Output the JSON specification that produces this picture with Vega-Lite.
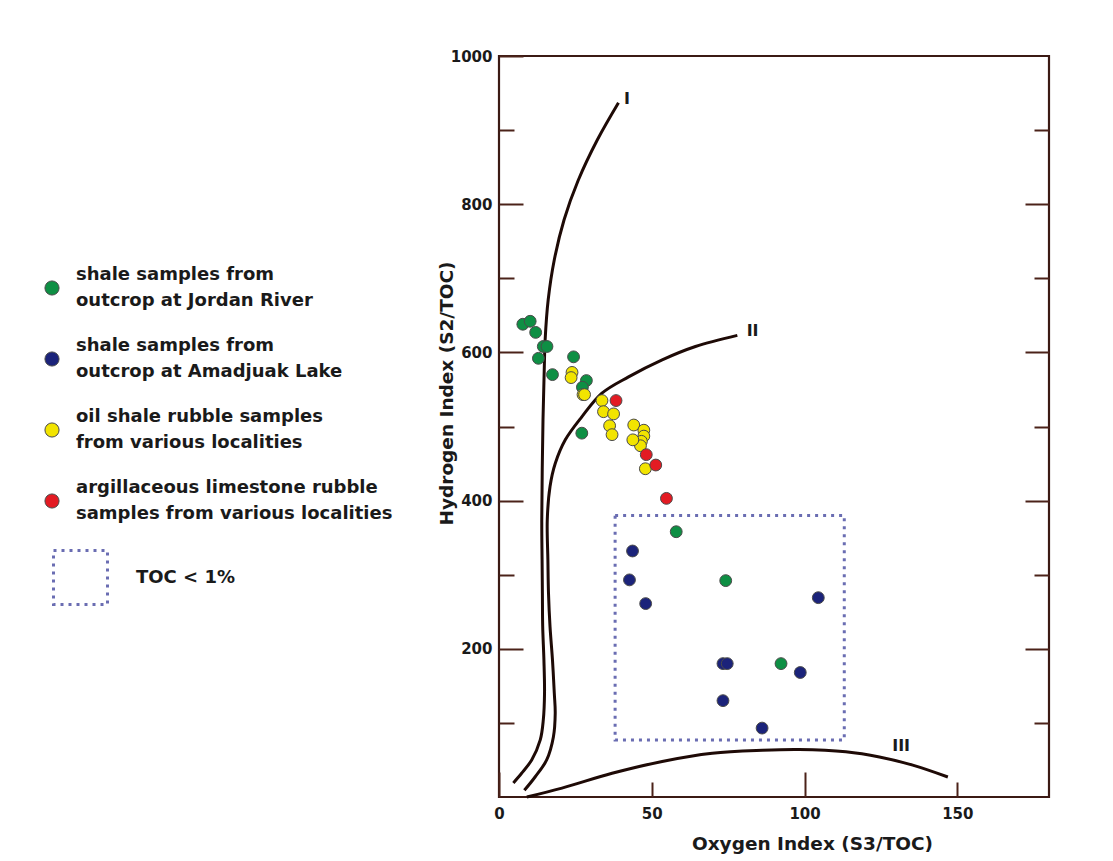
{
  "$schema": "https://vega.github.io/schema/vega-lite/v6.json",
  "width": 550,
  "height": 741,
  "autosize": {"type": "none"},
  "padding": {"left": 499, "top": 56, "right": 64, "bottom": 64},
  "background": "white",
  "config": {
    "font": "DejaVu Sans",
    "view": {"stroke": "#3b1a14", "strokeWidth": 2.2},
    "style": {"guide-label": {"lineHeight": 26}}
  },
  "datasets": {
    "toc": [{"x1": 38, "x2": 113, "y1": 77, "y2": 380, "zone": "TOC < 1%"}],
    "curves": [
      {"curve": "I", "i": 1, "x": 4.7, "y": 19},
      {"curve": "I", "i": 2, "x": 7.4, "y": 32},
      {"curve": "I", "i": 3, "x": 10.7, "y": 50},
      {"curve": "I", "i": 4, "x": 13.5, "y": 77},
      {"curve": "I", "i": 5, "x": 14.5, "y": 104},
      {"curve": "I", "i": 6, "x": 14.9, "y": 140},
      {"curve": "I", "i": 7, "x": 14.7, "y": 185},
      {"curve": "I", "i": 8, "x": 14.3, "y": 230},
      {"curve": "I", "i": 9, "x": 14.2, "y": 275},
      {"curve": "I", "i": 10, "x": 14.1, "y": 320},
      {"curve": "I", "i": 11, "x": 14.0, "y": 374},
      {"curve": "I", "i": 12, "x": 14.4, "y": 509},
      {"curve": "I", "i": 13, "x": 14.8, "y": 576},
      {"curve": "I", "i": 14, "x": 15.1, "y": 617},
      {"curve": "I", "i": 15, "x": 16.1, "y": 671},
      {"curve": "I", "i": 16, "x": 18.1, "y": 725},
      {"curve": "I", "i": 17, "x": 21.3, "y": 779},
      {"curve": "I", "i": 18, "x": 25.9, "y": 832},
      {"curve": "I", "i": 19, "x": 32.2, "y": 887},
      {"curve": "I", "i": 20, "x": 39.1, "y": 937},
      {"curve": "II", "i": 1, "x": 8.3, "y": 9},
      {"curve": "II", "i": 2, "x": 11.8, "y": 27},
      {"curve": "II", "i": 3, "x": 15.6, "y": 50},
      {"curve": "II", "i": 4, "x": 17.8, "y": 81},
      {"curve": "II", "i": 5, "x": 18.4, "y": 113},
      {"curve": "II", "i": 6, "x": 18.1, "y": 140},
      {"curve": "II", "i": 7, "x": 17.5, "y": 185},
      {"curve": "II", "i": 8, "x": 16.7, "y": 230},
      {"curve": "II", "i": 9, "x": 16.2, "y": 275},
      {"curve": "II", "i": 10, "x": 16.0, "y": 320},
      {"curve": "II", "i": 11, "x": 15.8, "y": 374},
      {"curve": "II", "i": 12, "x": 16.7, "y": 419},
      {"curve": "II", "i": 13, "x": 18.4, "y": 450},
      {"curve": "II", "i": 14, "x": 21.7, "y": 482},
      {"curve": "II", "i": 15, "x": 27.1, "y": 513},
      {"curve": "II", "i": 16, "x": 33.7, "y": 545},
      {"curve": "II", "i": 17, "x": 42.4, "y": 567},
      {"curve": "II", "i": 18, "x": 53.4, "y": 590},
      {"curve": "II", "i": 19, "x": 64.3, "y": 608},
      {"curve": "II", "i": 20, "x": 78.0, "y": 623},
      {"curve": "III", "i": 1, "x": 9.1, "y": 0},
      {"curve": "III", "i": 2, "x": 20.6, "y": 12},
      {"curve": "III", "i": 3, "x": 37.0, "y": 32},
      {"curve": "III", "i": 4, "x": 53.4, "y": 48},
      {"curve": "III", "i": 5, "x": 69.8, "y": 59},
      {"curve": "III", "i": 6, "x": 86.2, "y": 63},
      {"curve": "III", "i": 7, "x": 98.2, "y": 64},
      {"curve": "III", "i": 8, "x": 113.5, "y": 61},
      {"curve": "III", "i": 9, "x": 124.5, "y": 54},
      {"curve": "III", "i": 10, "x": 135.4, "y": 43},
      {"curve": "III", "i": 11, "x": 146.9, "y": 27}
    ],
    "curveLabels": [
      {"label": "I", "x": 41.9, "y": 942},
      {"label": "II", "x": 83.0, "y": 629},
      {"label": "III", "x": 131.6, "y": 69}
    ],
    "samples": [
      {"group": "shale samples from|outcrop at Jordan River", "oi": 7.8, "hi": 638},
      {"group": "shale samples from|outcrop at Jordan River", "oi": 10.2, "hi": 642},
      {"group": "shale samples from|outcrop at Jordan River", "oi": 12.0, "hi": 627},
      {"group": "shale samples from|outcrop at Jordan River", "oi": 14.5, "hi": 608},
      {"group": "shale samples from|outcrop at Jordan River", "oi": 15.7, "hi": 608},
      {"group": "shale samples from|outcrop at Jordan River", "oi": 12.9, "hi": 592},
      {"group": "shale samples from|outcrop at Jordan River", "oi": 17.5, "hi": 570},
      {"group": "shale samples from|outcrop at Jordan River", "oi": 24.4, "hi": 594},
      {"group": "shale samples from|outcrop at Jordan River", "oi": 28.6, "hi": 562},
      {"group": "shale samples from|outcrop at Jordan River", "oi": 27.3, "hi": 553},
      {"group": "shale samples from|outcrop at Jordan River", "oi": 27.1, "hi": 491},
      {"group": "shale samples from|outcrop at Jordan River", "oi": 58.0, "hi": 358},
      {"group": "shale samples from|outcrop at Jordan River", "oi": 74.2, "hi": 292},
      {"group": "shale samples from|outcrop at Jordan River", "oi": 92.3, "hi": 180},
      {"group": "shale samples from|outcrop at Amadjuak Lake", "oi": 43.7, "hi": 332},
      {"group": "shale samples from|outcrop at Amadjuak Lake", "oi": 42.7, "hi": 293},
      {"group": "shale samples from|outcrop at Amadjuak Lake", "oi": 48.0, "hi": 261},
      {"group": "shale samples from|outcrop at Amadjuak Lake", "oi": 73.3, "hi": 180},
      {"group": "shale samples from|outcrop at Amadjuak Lake", "oi": 74.7, "hi": 180},
      {"group": "shale samples from|outcrop at Amadjuak Lake", "oi": 104.5, "hi": 269},
      {"group": "shale samples from|outcrop at Amadjuak Lake", "oi": 98.6, "hi": 168},
      {"group": "shale samples from|outcrop at Amadjuak Lake", "oi": 73.3, "hi": 130},
      {"group": "shale samples from|outcrop at Amadjuak Lake", "oi": 86.1, "hi": 93},
      {"group": "oil shale rubble samples|from various localities", "oi": 23.9, "hi": 573},
      {"group": "oil shale rubble samples|from various localities", "oi": 23.6, "hi": 566},
      {"group": "oil shale rubble samples|from various localities", "oi": 27.5, "hi": 543},
      {"group": "oil shale rubble samples|from various localities", "oi": 28.0, "hi": 543},
      {"group": "oil shale rubble samples|from various localities", "oi": 33.7, "hi": 535},
      {"group": "oil shale rubble samples|from various localities", "oi": 34.2, "hi": 520},
      {"group": "oil shale rubble samples|from various localities", "oi": 37.5, "hi": 517},
      {"group": "oil shale rubble samples|from various localities", "oi": 36.2, "hi": 501},
      {"group": "oil shale rubble samples|from various localities", "oi": 37.0, "hi": 489},
      {"group": "oil shale rubble samples|from various localities", "oi": 44.1, "hi": 502},
      {"group": "oil shale rubble samples|from various localities", "oi": 47.4, "hi": 495},
      {"group": "oil shale rubble samples|from various localities", "oi": 47.4, "hi": 487},
      {"group": "oil shale rubble samples|from various localities", "oi": 46.6, "hi": 480},
      {"group": "oil shale rubble samples|from various localities", "oi": 46.3, "hi": 474},
      {"group": "oil shale rubble samples|from various localities", "oi": 43.8, "hi": 482},
      {"group": "oil shale rubble samples|from various localities", "oi": 47.9, "hi": 443},
      {"group": "argillaceous limestone rubble|samples from various localities", "oi": 38.3, "hi": 535},
      {"group": "argillaceous limestone rubble|samples from various localities", "oi": 48.2, "hi": 462},
      {"group": "argillaceous limestone rubble|samples from various localities", "oi": 51.3, "hi": 448},
      {"group": "argillaceous limestone rubble|samples from various localities", "oi": 54.8, "hi": 403}
    ]
  },
  "resolve": {"axis": {"y": "independent"}},
  "layer": [
    {
      "data": {"name": "toc"},
      "mark": {"type": "rect", "filled": false, "strokeWidth": 3, "strokeDash": [3, 5]},
      "encoding": {
        "x": {
          "field": "x1", "type": "quantitative",
          "scale": {"domain": [0, 180], "nice": false, "zero": false},
          "axis": {
            "orient": "bottom",
            "values": [0, 50, 100, 150],
            "format": "d",
            "labelFlush": false,
            "domain": false, "grid": false,
            "tickColor": "#4b2219", "tickWidth": 2,
            "tickSize": {"condition": {"test": "datum.value % 100 === 0", "value": -25}, "value": -15},
            "labelPadding": {"condition": {"test": "datum.value % 100 === 0", "value": 34}, "value": 24},
            "labelFont": "DejaVu Sans", "labelFontWeight": "bold", "labelFontSize": 15, "labelColor": "#1a1a1a",
            "title": "Oxygen Index (S3/TOC)",
            "titleFont": "DejaVu Sans", "titleFontWeight": "bold", "titleFontSize": 18.5, "titleColor": "#1a1a1a",
            "titleX": 313, "titleY": 46, "titleAlign": "center", "titleBaseline": "middle"
          }
        },
        "x2": {"field": "x2"},
        "y": {
          "field": "y1", "type": "quantitative",
          "scale": {"domain": [0, 1000], "nice": false, "zero": false},
          "axis": {
            "orient": "left",
            "values": [100, 200, 300, 400, 500, 600, 700, 800, 900, 1000],
            "format": "d",
            "labelExpr": "datum.value % 200 === 0 ? datum.label : ''",
            "domain": false, "grid": false,
            "tickColor": "#4b2219", "tickWidth": 2,
            "tickSize": {"condition": {"test": "datum.value % 200 === 0", "value": -24}, "value": -15},
            "labelPadding": 31,
            "labelFont": "DejaVu Sans", "labelFontWeight": "bold", "labelFontSize": 15, "labelColor": "#1a1a1a",
            "title": "Hydrogen Index (S2/TOC)",
            "titleFont": "DejaVu Sans", "titleFontWeight": "bold", "titleFontSize": 18.5, "titleColor": "#1a1a1a",
            "titleX": -53, "titleY": 337, "titleAngle": -90, "titleAlign": "center", "titleBaseline": "middle"
          }
        },
        "y2": {"field": "y2"},
        "stroke": {
          "field": "zone", "type": "nominal",
          "scale": {"range": ["#6a6db2"]},
          "legend": {
            "title": null,
            "orient": "none", "legendX": -447, "legendY": 493,
            "padding": 0,
            "symbolType": "square", "symbolSize": 2916,
            "symbolStrokeWidth": 3, "symbolDash": [3, 5], "symbolFillColor": "transparent",
            "symbolStrokeColor": "#6a6db2",
            "labelFont": "DejaVu Sans", "labelFontWeight": "bold", "labelFontSize": 18, "labelColor": "#1a1a1a",
            "labelOffset": 27, "labelLimit": 0
          }
        }
      }
    },
    {
      "data": {"name": "curves"},
      "mark": {"type": "line", "color": "#1e0a06", "strokeWidth": 3, "interpolate": "catmull-rom"},
      "encoding": {
        "x": {"field": "x", "type": "quantitative"},
        "y": {
          "field": "y", "type": "quantitative",
          "axis": {
            "orient": "right",
            "values": [100, 200, 300, 400, 500, 600, 700, 800, 900],
            "labels": false, "domain": false, "grid": false, "title": null,
            "tickColor": "#4b2219", "tickWidth": 2,
            "tickSize": {"condition": {"test": "datum.value % 200 === 0", "value": -24}, "value": -15}
          }
        },
        "detail": {"field": "curve"},
        "order": {"field": "i", "type": "quantitative"}
      }
    },
    {
      "data": {"name": "curveLabels"},
      "mark": {"type": "text", "font": "DejaVu Sans", "fontWeight": "bold", "fontSize": 16, "color": "#1a1a1a", "align": "center", "baseline": "middle"},
      "encoding": {
        "x": {"field": "x", "type": "quantitative"},
        "y": {"field": "y", "type": "quantitative", "axis": null},
        "text": {"field": "label"}
      }
    },
    {
      "data": {"name": "samples"},
      "mark": {"type": "circle", "size": 140, "opacity": 1, "stroke": "#4a4a4a", "strokeWidth": 1},
      "encoding": {
        "x": {"field": "oi", "type": "quantitative"},
        "y": {"field": "hi", "type": "quantitative", "axis": null},
        "color": {
          "field": "group", "type": "nominal",
          "scale": {
            "domain": [
              "shale samples from|outcrop at Jordan River",
              "shale samples from|outcrop at Amadjuak Lake",
              "oil shale rubble samples|from various localities",
              "argillaceous limestone rubble|samples from various localities"
            ],
            "range": ["#0e8f44", "#1b237a", "#f2e400", "#e31b23"]
          },
          "legend": {
            "title": null,
            "orient": "none", "legendX": -456, "legendY": 223,
            "padding": 0,
            "symbolType": "circle", "symbolSize": 200,
            "symbolStrokeColor": "#4a4a4a", "symbolStrokeWidth": 1,
            "labelExpr": "split(datum.label, '|')",
            "labelBaseline": "line-bottom",
            "labelFont": "DejaVu Sans", "labelFontWeight": "bold", "labelFontSize": 18, "labelColor": "#1a1a1a",
            "labelOffset": 15, "labelLimit": 0, "rowPadding": 27
          }
        }
      }
    }
  ]
}
